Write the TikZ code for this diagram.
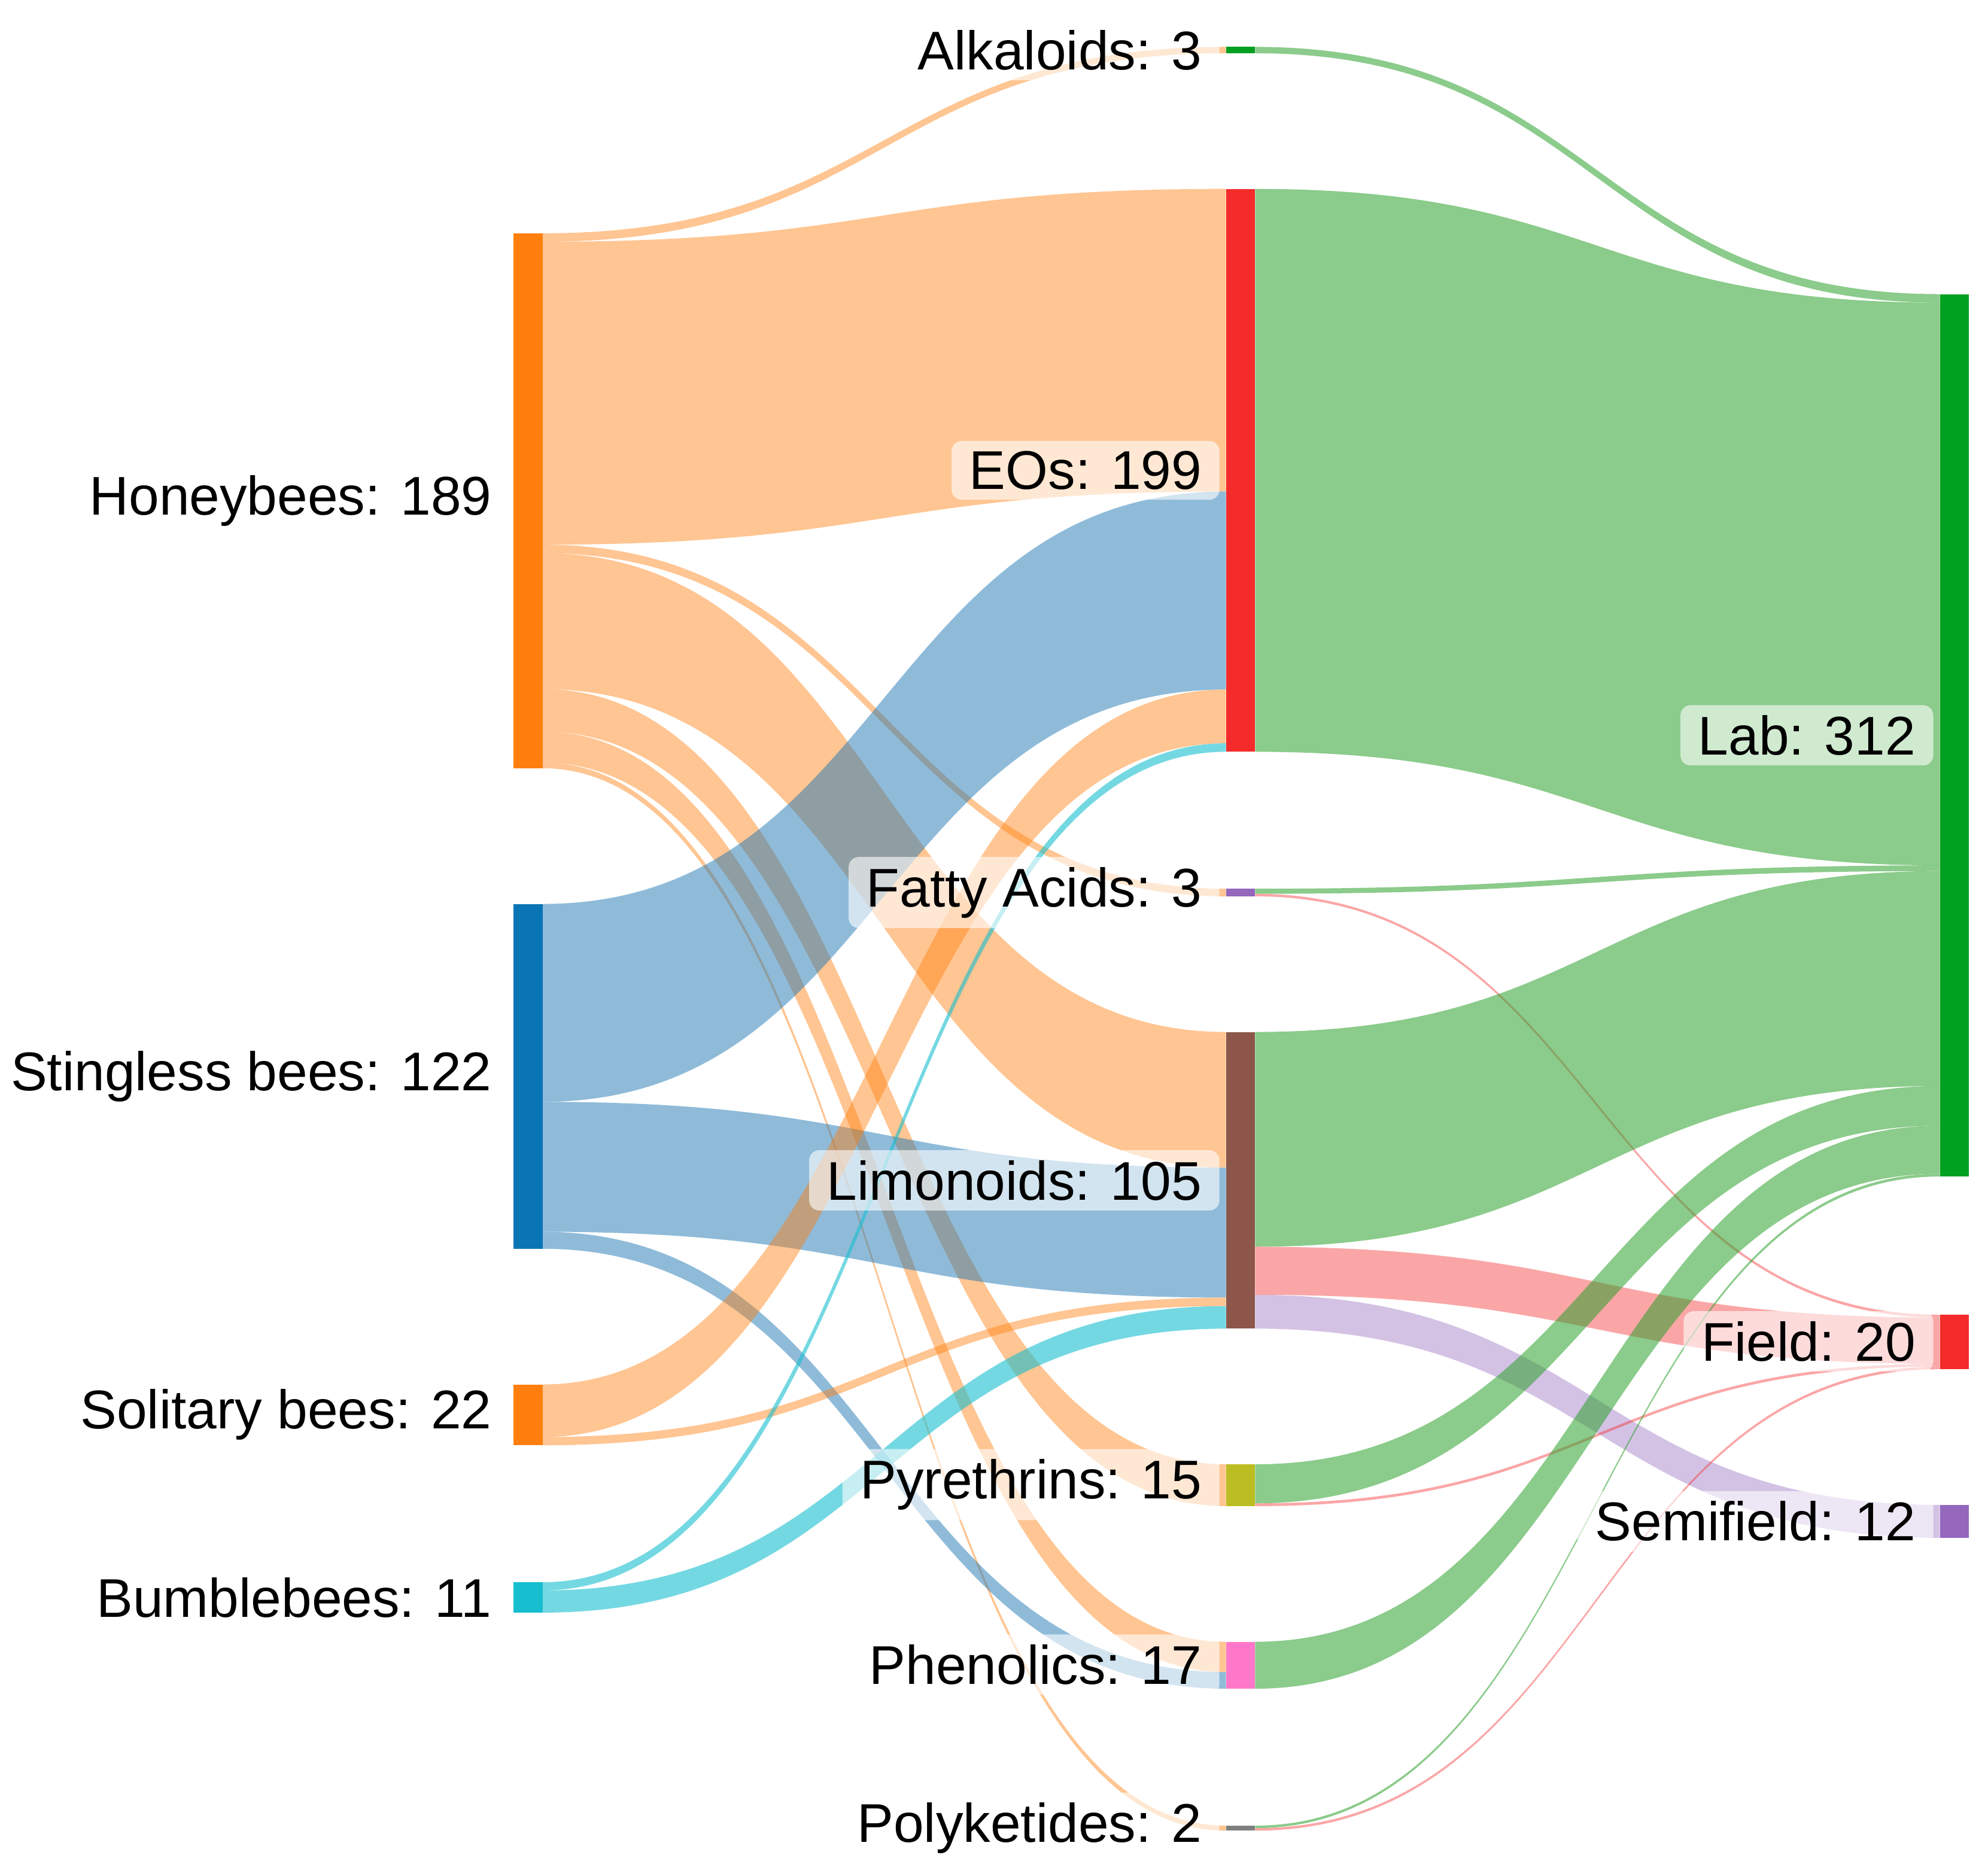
\documentclass[tikz,border=0pt]{standalone}
\usepackage{fontspec}
\setmainfont{Liberation Sans}
\begin{document}
\definecolor{cO}{HTML}{FF7F0E}
\definecolor{cB}{HTML}{1F77B4}
\definecolor{cC}{HTML}{17BECF}
\definecolor{cG}{HTML}{2CA02C}
\definecolor{cR}{HTML}{F52A2A}
\definecolor{cP}{HTML}{9467BD}
\definecolor{nB}{HTML}{0A75B5}
\definecolor{nG}{HTML}{00A020}
\definecolor{nBr}{HTML}{8C564B}
\definecolor{nOl}{HTML}{BCBD22}
\definecolor{nPk}{HTML}{FF77C8}
\definecolor{nGy}{HTML}{7F7F7F}
\newcommand\flw[7]{\fill[#7] (#1,#2) .. controls ({(#1+#4)/2},#2) and ({(#1+#4)/2},#5) .. (#4,#5) -- (#4,#6) .. controls ({(#1+#4)/2},#6) and ({(#1+#4)/2},#3) .. (#1,#3) -- cycle;}
\begin{tikzpicture}[x=1pt,y=-1pt,
  fo/.style={cO,fill opacity=0.45},
  fb/.style={cB,fill opacity=0.5},
  fc/.style={cC,fill opacity=0.6},
  fg/.style={cG,fill opacity=0.55},
  fr/.style={cR,fill opacity=0.42},
  fp/.style={cP,fill opacity=0.4},
  lab/.style={font=\fontsize{43}{50}\selectfont,anchor=east,inner sep=6pt},
  mlab/.style={lab,fill=white,fill opacity=0.6,text opacity=1,rounded corners=8pt,inner xsep=14pt,inner ysep=8pt}]
\useasboundingbox (0,0) rectangle (1568,1470);
% left -> middle
\flw{428}{184}{190.7}{967}{37}{42}{fo}
\flw{428}{190.7}{429.6}{967}{149}{387.7}{fo}
\flw{428}{429.6}{436.3}{967}{701}{707}{fo}
\flw{428}{436.3}{543.5}{967}{814}{921}{fo}
\flw{428}{543.5}{577.0}{967}{1155}{1188}{fo}
\flw{428}{577.0}{601.5}{967}{1295}{1318.9}{fo}
\flw{428}{601.5}{606}{967}{1440}{1444}{fo}
\flw{428}{713}{869.1}{967}{387.7}{543.9}{fb}
\flw{428}{869.1}{971.6}{967}{921}{1023.5}{fb}
\flw{428}{971.6}{985}{967}{1318.9}{1332}{fb}
\flw{428}{1092}{1133.5}{967}{543.9}{586.3}{fo}
\flw{428}{1133.5}{1140}{967}{1023.5}{1030.2}{fo}
\flw{428}{1248}{1254.5}{967}{586.3}{593}{fc}
\flw{428}{1254.5}{1272}{967}{1030.2}{1048}{fc}
% middle -> right
\flw{990}{37}{42}{1530}{232}{238.7}{fg}
\flw{990}{149}{593}{1530}{238.7}{682.6}{fg}
\flw{990}{701}{705}{1530}{682.6}{687.1}{fg}
\flw{990}{705}{707}{1530}{1037}{1039.2}{fr}
\flw{990}{814}{983.4}{1530}{687.1}{856.6}{fg}
\flw{990}{983.4}{1021.3}{1530}{1039.2}{1075.7}{fr}
\flw{990}{1021.3}{1048}{1530}{1187}{1213}{fp}
\flw{990}{1155}{1185.8}{1530}{856.6}{887.9}{fg}
\flw{990}{1185.8}{1188}{1530}{1075.7}{1077.9}{fr}
\flw{990}{1295}{1332}{1530}{887.9}{925.8}{fg}
\flw{990}{1440}{1442}{1530}{925.8}{928}{fg}
\flw{990}{1442}{1444}{1530}{1077.9}{1080}{fr}
% bars
\fill[cO] (405,184) rectangle (428,606);
\fill[nB] (405,713) rectangle (428,985);
\fill[cO] (405,1092) rectangle (428,1140);
\fill[cC] (405,1248) rectangle (428,1272);
\fill[nG] (967,37) rectangle (990,42);
\fill[cR] (967,149) rectangle (990,593);
\fill[cP] (967,701) rectangle (990,707);
\fill[nBr] (967,814) rectangle (990,1048);
\fill[nOl] (967,1155) rectangle (990,1188);
\fill[nPk] (967,1295) rectangle (990,1332);
\fill[nGy] (967,1440) rectangle (990,1444);
\fill[nG] (1530,232) rectangle (1553,928);
\fill[cR] (1530,1037) rectangle (1553,1080);
\fill[cP] (1530,1187) rectangle (1553,1213);
% labels
\node[lab] (lhb) at (394,395) {Honeybees: 189};
\node[lab] (lsb) at (394,849) {Stingless bees: 122};
\node[lab] (lso) at (394,1116) {Solitary bees: 22};
\node[lab] (lbb) at (394,1260) {Bumblebees: 11};
\node[mlab] (lal) at (962,39.5) {Alkaloids: 3};
\node[mlab] (leo) at (962,371) {EOs: 199};
\node[mlab] (lfa) at (962,704) {Fatty Acids: 3};
\node[mlab] (lli) at (962,931) {Limonoids: 105};
\node[mlab] (lpy) at (962,1171) {Pyrethrins: 15};
\node[mlab] (lph) at (962,1313) {Phenolics: 17};
\node[mlab] (lpo) at (962,1442) {Polyketides: 2};
\node[mlab] (lla) at (1525,580) {Lab: 312};
\node[mlab] (lfi) at (1525,1058) {Field: 20};
\node[mlab] (lse) at (1525,1200) {Semifield: 12};
\end{tikzpicture}
\end{document}
